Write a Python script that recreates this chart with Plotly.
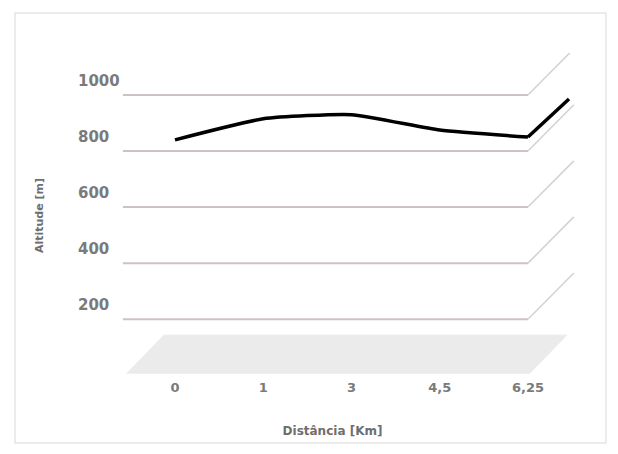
import plotly.graph_objects as go

# --- data ---
distances = ["0", "1", "3", "4,5", "6,25"]        # Distância [Km] (category labels)
altitudes = [790, 865, 880, 825, 800]              # Altitude [m]
y_ticks = [200, 400, 600, 800, 1000]

# --- pseudo-3D styling constants (data units) ---
pos = list(range(len(distances)))
GRID_X0, GRID_X1 = -0.59, 4.0
GRID_OFFSET = -50           # front edge of each gridline below its label
GRID_DEPTH = (0.52, 165)    # diagonal back-wall offset
LINE_DEPTH = (0.465, 136)
FLOOR = dict(x0=-0.544, x1=4.02, y0=-43, dx=0.42, dy=136)

GRID_COLOR = "#cfc2c2"
DIAG_COLOR = "#d6d0d0"
TEXT_COLOR = "#7a7a7a"
FONT = "DejaVu Sans"

fig = go.Figure()

# floor
fx = [FLOOR["x0"], FLOOR["x1"], FLOOR["x1"] + FLOOR["dx"], FLOOR["x0"] + FLOOR["dx"], FLOOR["x0"]]
fy = [FLOOR["y0"], FLOOR["y0"], FLOOR["y0"] + FLOOR["dy"], FLOOR["y0"] + FLOOR["dy"], FLOOR["y0"]]
fig.add_trace(go.Scatter(x=fx, y=fy, fill="toself", fillcolor="#ebebeb",
                         line=dict(color="#ebebeb", width=1), mode="lines",
                         hoverinfo="skip", showlegend=False))

# gridlines (flat part + diagonal)
for v in y_ticks:
    yv = v + GRID_OFFSET
    fig.add_trace(go.Scatter(x=[GRID_X0, GRID_X1], y=[yv, yv], mode="lines",
                             line=dict(color=GRID_COLOR, width=2),
                             hoverinfo="skip", showlegend=False))
    fig.add_trace(go.Scatter(x=[GRID_X1, GRID_X1 + GRID_DEPTH[0]],
                             y=[yv, yv + GRID_DEPTH[1]], mode="lines",
                             line=dict(color=DIAG_COLOR, width=1.5),
                             hoverinfo="skip", showlegend=False))

# data line
fig.add_trace(go.Scatter(x=pos, y=altitudes, mode="lines",
                         line=dict(color="black", width=3.5, shape="spline", smoothing=0.5),
                         showlegend=False))
# depth end of the ribbon
fig.add_trace(go.Scatter(x=[pos[-1], pos[-1] + LINE_DEPTH[0]],
                         y=[altitudes[-1], altitudes[-1] + LINE_DEPTH[1]], mode="lines",
                         line=dict(color="black", width=3.5),
                         hoverinfo="skip", showlegend=False))

fig.update_layout(
    width=610, height=446,
    margin=dict(l=67, r=28, t=45, b=76),
    paper_bgcolor="white", plot_bgcolor="white",
    font=dict(family=FONT, color=TEXT_COLOR),
    xaxis=dict(range=[-1.133, 4.703], tickvals=pos, ticktext=distances,
               showgrid=False, zeroline=False, showline=False, ticks="",
               tickfont=dict(size=13, family=FONT, weight="bold", color=TEXT_COLOR),
               title=dict(text="Distância [Km]", standoff=32,
                          font=dict(size=12, family=FONT, weight="bold", color="#6e6e6e")),
               automargin=False, fixedrange=True),
    yaxis=dict(range=[-60, 1100], tickvals=y_ticks, ticklabelposition="inside",
               showgrid=False, zeroline=False, showline=False, ticks="",
               tickfont=dict(size=15, family=FONT, weight="bold", color=TEXT_COLOR),
               title=dict(text="Altitude [m]", standoff=32,
                          font=dict(size=11, family=FONT, weight="bold", color="#6e6e6e")),
               automargin=False, fixedrange=True),
    shapes=[dict(type="rect", xref="paper", yref="paper",
                 x0=(15 - 75) / 515, x1=(606 - 75) / 515,
                 y0=(454 - 76 - 443) / 325, y1=(454 - 76 - 13) / 325,
                 line=dict(color="#e6e6e6", width=1.5), layer="below")],
)

fig.write_html("out.html")
